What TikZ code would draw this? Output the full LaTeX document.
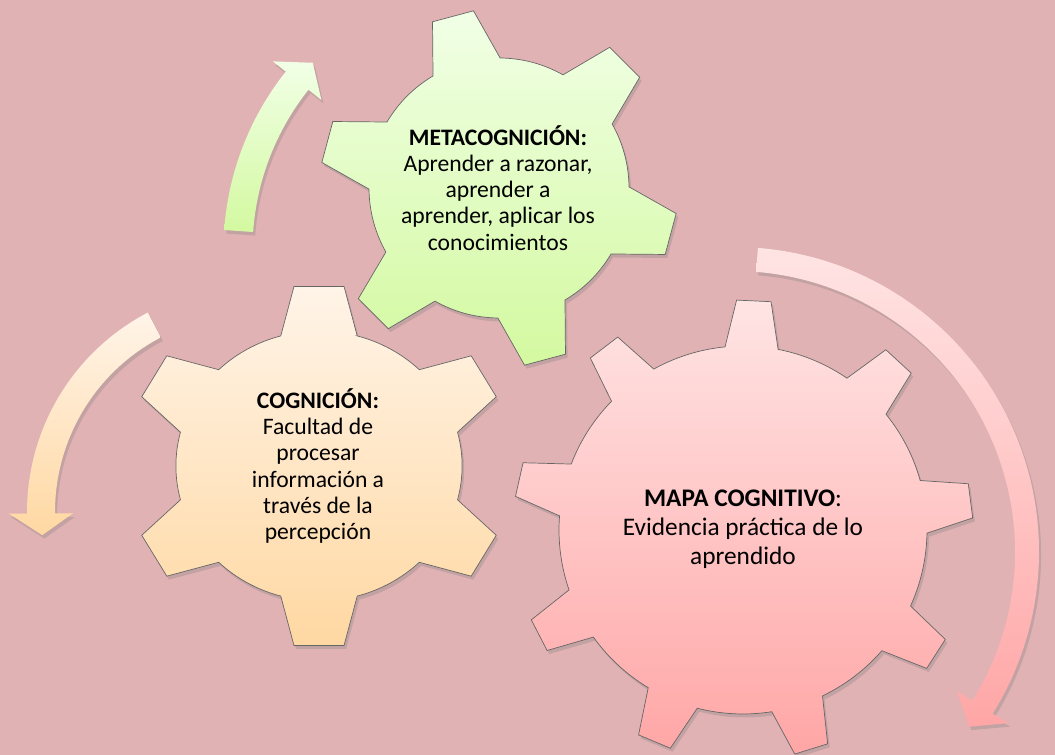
\documentclass[tikz,border=0pt]{standalone}
\usepackage{fontspec}
\setmainfont{Carlito}
\usepackage{tikz}
\usetikzlibrary{positioning}
\usetikzlibrary{shadows}

\definecolor{fondo}{HTML}{E1B2B4}
\definecolor{verdeA}{HTML}{F1FFE6}
\definecolor{verdeB}{HTML}{D3F9A0}
\definecolor{naranjaA}{HTML}{FFF4E8}
\definecolor{naranjaB}{HTML}{FFD8A2}
\definecolor{rosaA}{HTML}{FFE4E4}
\definecolor{rosaB}{HTML}{FFA6A6}

\tikzset{
  sombra/.style={drop shadow={opacity=0.3, shadow xshift=1.5pt, shadow yshift=-2.5pt}},
  rueda/.style={sombra, draw=black!60, line width=0.5pt, line join=miter},
  cinta/.style={sombra},
  texto/.style={align=center, font=\fontsize{16.8}{18.6}\selectfont},
}

% gear: scope options, teeth, rotation, body radius, tip radius, half angle base, half angle tip, style
\newcommand{\engranaje}[8]{%
  \begin{scope}[#1]
  \pgfmathtruncatemacro\ultimo{#2-1}
  \path[rueda,#8] ({#3-#6}:#4)
    \foreach \k [evaluate=\k as \a using {#3+\k*360/#2}] in {0,...,\ultimo} {
      -- ({\a-#7}:#5) -- ({\a+#7}:#5) -- ({\a+#6}:#4)
      arc[start angle={\a+#6}, end angle={\a+360/#2-#6}, radius=#4]
    } -- cycle;
  \end{scope}}

% curved arrow: center, radius, half width, start, end, tip angle, head half width, style
\newcommand{\arco}[8]{%
  \begin{scope}[shift={#1}]
  \path[cinta,#8] ({#4}:{#2+#3}) arc[start angle=#4, end angle=#5, radius={#2+#3}]
    -- ({#5}:{#2+#7}) -- ({#6}:#2) -- ({#5}:{#2-#7}) -- ({#5}:{#2-#3})
    arc[start angle=#5, end angle=#4, radius={#2-#3}] -- cycle;
  \end{scope}}

\begin{document}
\begin{tikzpicture}[x=0.025cm, y=0.025cm]
\useasboundingbox (0,0) rectangle (1055,755);
\fill[fondo] (0,0) rectangle (1055,755);

% arrows
\arco{(510,505)}{272}{14.5}{176}{141.5}{136.5}{31}{top color=verdeA, bottom color=verdeB}
\arco{(252,243)}{211}{14}{117.6}{180.4}{186.3}{32}{top color=naranjaA, bottom color=naranjaB}
\arco{(734,203)}{293}{12}{85.5}{-32}{-36.6}{30}{top color=rosaA, bottom color=rosaB}

% gears
\engranaje{shift={(499,567)}}{6}{45}{130}{179}{15.5}{6.8}{top color=verdeA, bottom color=verdeB}
\engranaje{shift={(319,289)}, xscale=1.06}{6}{90}{135}{181}{15.5}{7.5}{top color=naranjaA, bottom color=naranjaB}
\engranaje{shift={(743,225)}}{9}{87.3}{184}{230}{8.3}{4.3}{top color=rosaA, bottom color=rosaB}

\node[texto] (meta) at (498,567) {\textbf{METACOGNICIÓN:}\\Aprender a razonar,\\aprender a\\aprender, aplicar los\\conocimientos};
\node[texto] (cogni) at (318,289) {\textbf{COGNICIÓN:}\\Facultad de\\procesar\\información a\\través de la\\percepción};
\node[texto, font=\fontsize{18}{20.6}\selectfont] (mapa) at (743,226) {\textbf{MAPA COGNITIVO}:\\Evidencia práctica de lo\\aprendido};
\end{tikzpicture}
\end{document}
